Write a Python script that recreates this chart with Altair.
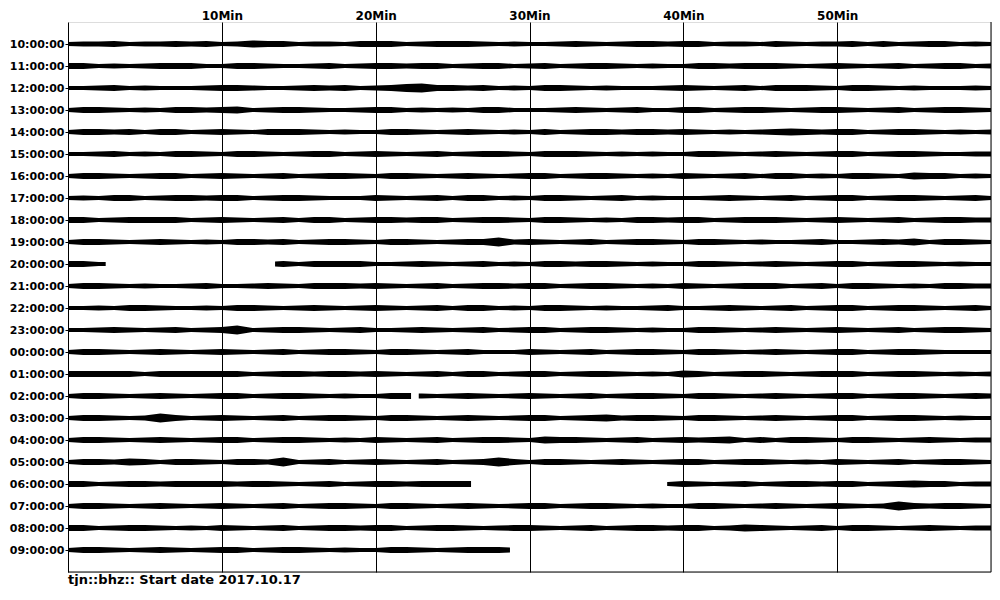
import altair as alt
import pandas as pd

ROW_LABELS = ["10:00:00", "11:00:00", "12:00:00", "13:00:00", "14:00:00", "15:00:00",
              "16:00:00", "17:00:00", "18:00:00", "19:00:00", "20:00:00", "21:00:00",
              "22:00:00", "23:00:00", "00:00:00", "01:00:00", "02:00:00", "03:00:00",
              "04:00:00", "05:00:00", "06:00:00", "07:00:00", "08:00:00", "09:00:00"]
TICK_MIN = [10, 20, 30, 40, 50]
TITLE = "tjn::bhz:: Start date 2017.10.17"

# half-amplitude envelope of each hourly trace, one digit per minute mark (0..60)
ENV = [
    "4556455656" "4576645546" "6645666545" "4456545665" "6645546545" "5646456645" "4",
    "6645456664" "4665445645" "6656645664" "5645665454" "4665666545" "6545645664" "5",
    "4456454445" "6654456564" "5689665645" "4665454445" "6545646665" "4665454445" "4",
    "4665454665" "6745665445" "6645454664" "4456545644" "6645665456" "6545645665" "4",
    "4665646645" "6546665454" "4665456545" "4645665665" "6545456765" "6645665454" "5",
    "4456454665" "4665456645" "6545645665" "4666545454" "4665456545" "6645665445" "5",
    "4665456645" "6545645665" "4665456545" "6645665454" "6545646645" "4665476645" "4",
    "4546645665" "6645665444" "6545646645" "4665456454" "4456545645" "6645665456" "4",
    "6645666645" "6545646645" "6656645665" "4665454665" "6645666545" "6545645665" "5",
    "4665456545" "4665645665" "4665456695" "6545645665" "4665454456" "4456574665" "4",
    "6645665454" "6545646666" "4456545645" "4665665454" "4665456545" "6645665454" "4",
    "4665454456" "4456546665" "6545645665" "6645665454" "6545666456" "4665454665" "5",
    "4454665445" "4665456545" "6545646645" "4665454456" "4456545645" "6645665456" "4",
    "4456545645" "6945665456" "4456545645" "6645665454" "4665456545" "6545645665" "4",
    "4665456545" "6545645665" "4665456444" "6545645665" "4665456545" "6645665444" "4",
    "6666646666" "6645665665" "6545646645" "6645665454" "7645665456" "6645665454" "5",
    "4665456545" "6645665454" "4665456545" "6545645665" "4665456545" "6645665456" "5",
    "4665459645" "6545645665" "4665456545" "6645675665" "4665456545" "6645665454" "4",
    "4665456545" "6645665454" "6545645665" "4766545645" "6567464665" "4665456545" "5",
    "4665764665" "4665945645" "6545645696" "4665456545" "6645665454" "6545645665" "4",
    "6645665666" "6566545645" "6656666666" "6645665454" "6545645665" "6645676645" "5",
    "4665456545" "6545645665" "4665456545" "6645665454" "4665456545" "6545965665" "4",
    "6645665454" "6545645665" "6645665456" "6545645665" "6645765456" "4665456545" "5",
    "4665456545" "6645665454" "4665456665" "4444444444" "4444444444" "4444444444" "4",
]
for i, s in enumerate(ENV):
    assert len(s) == 61, (i, len(s))

# data gaps: (row label, start minute, end minute)
GAPS = [("20:00:00", 2.45, 13.46),
        ("02:00:00", 22.3, 22.8),
        ("06:00:00", 26.2, 38.95),
        ("09:00:00", 28.73, 60.0)]

AMP_PER_ROW = 44.0  # amplitude units per row spacing (helicorder gain)

records = []
for k, lab in enumerate(ROW_LABELS):
    env = ENV[k]
    segs = [(0.0, 60.0)]
    for g_lab, gs, ge in GAPS:
        if g_lab != lab:
            continue
        new = []
        for s, e in segs:
            if ge <= s or gs >= e:
                new.append((s, e))
                continue
            if gs > s:
                new.append((s, gs))
            if ge < e:
                new.append((ge, e))
        segs = new
    for si, (s, e) in enumerate(segs):
        ts = [s] + [float(m) for m in range(61) if s < m < e] + [e]
        for t in ts:
            a = int(env[min(60, int(round(t)))]) / AMP_PER_ROW
            c = -(k + 1)
            records.append({"row": lab, "seg": f"{lab}-{si}", "t": t, "lo": c - a, "hi": c + a})

df = pd.DataFrame(records)

label_arr = "[" + ",".join(f"'{s}'" for s in ROW_LABELS) + "]"
FONT = "DejaVu Sans"

xscale = alt.Scale(domain=[0, 60], nice=False, zero=False)
yscale = alt.Scale(domain=[-25, 0], nice=False, zero=False)

X_AXIS = alt.Axis(orient="top", values=TICK_MIN, labelExpr="datum.value + 'Min'",
                  grid=True, gridColor="black", gridOpacity=1, gridWidth=1,
                  ticks=False, domain=False, title=None, labelOverlap=False,
                  labelFont=FONT, labelFontSize=12, labelFontWeight="bold",
                  labelColor="black", labelPadding=0)
Y_AXIS = alt.Axis(values=[-(k + 1) for k in range(len(ROW_LABELS))],
                  labelExpr=f"{label_arr}[-datum.value - 1]",
                  labelOverlap=False, labelBound=False,
                  grid=False, domain=True, domainColor="black", domainWidth=1,
                  ticks=True, tickColor="black", tickSize=3, title=None,
                  labelFont=FONT, labelFontSize=11, labelFontWeight="bold",
                  labelColor="black", labelPadding=1)

traces = alt.Chart(df).mark_area(color="black", interpolate="linear").encode(
    x=alt.X("t:Q", scale=xscale, axis=X_AXIS),
    y=alt.Y("lo:Q", scale=yscale, axis=Y_AXIS),
    y2="hi:Q",
    detail="seg:N",
)

right = alt.Chart(pd.DataFrame({"t": [60]})).mark_rule(color="black", strokeWidth=1).encode(
    x=alt.X("t:Q", scale=xscale, axis=X_AXIS))
bottom = alt.Chart(pd.DataFrame({"lo": [-25]})).mark_rule(color="black", strokeWidth=1).encode(
    y=alt.Y("lo:Q", scale=yscale, axis=Y_AXIS))

chart = alt.layer(traces, right, bottom).properties(
    width=923, height=550,
    autosize=alt.AutoSizeParams(type="none"),
    padding={"left": 60, "top": 14, "right": 1, "bottom": 14},
    title=alt.TitleParams(TITLE, orient="bottom", anchor="start", frame="group",
                          font=FONT, fontSize=13, fontWeight="bold", color="black", offset=1),
).configure_view(strokeWidth=0).configure(background="white")

chart.save("out.html", embed_options={"renderer": "svg", "actions": False})
